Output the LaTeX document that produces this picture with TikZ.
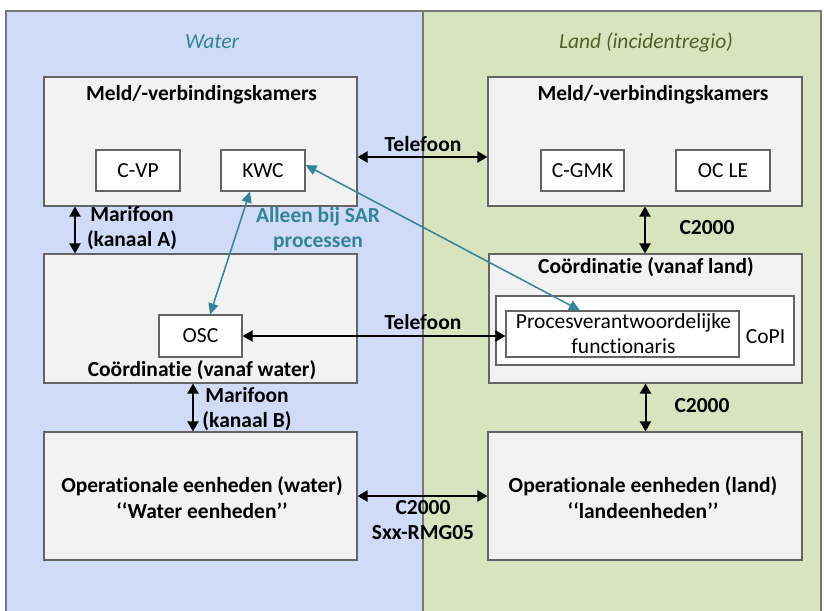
\documentclass[tikz,border=0pt]{standalone}
\usepackage{fontspec}
\setmainfont{Carlito}[Ligatures={NoCommon}]
\usetikzlibrary{arrows.meta}
\definecolor{waterbg}{RGB}{207,219,247}
\definecolor{landbg}{RGB}{215,228,189}
\definecolor{boxfill}{RGB}{242,242,242}
\definecolor{boxline}{RGB}{100,100,100}
\definecolor{panelline}{RGB}{120,120,120}
\definecolor{tealc}{RGB}{49,132,155}
\definecolor{landc}{RGB}{79,98,40}
\newcommand{\fsz}{\fontsize{21.5}{25.5}\selectfont}
\begin{document}
\begin{tikzpicture}[x=1pt,y=-1pt,
  panel/.style={draw=panelline, line width=1.2pt, inner sep=0, minimum height=604pt},
  box/.style={draw=boxline, fill=boxfill, line width=1.1pt, inner sep=0},
  wbox/.style={draw=boxline, fill=white, line width=1.1pt, inner sep=0},
  txt/.style={font=\fsz, inner sep=0, align=center},
  btxt/.style={font=\fsz\bfseries, inner sep=0, align=center},
  blk/.style={line width=2pt, {Triangle[length=10pt,width=11pt]}-{Triangle[length=10pt,width=11pt]}},
  tl/.style={draw=tealc, line width=1.5pt, {Triangle[length=11pt,width=10pt]}-{Triangle[length=11pt,width=10pt]}}
]
\clip (0,0) rectangle (824,610);
\fill[white] (0,0) rectangle (824,610);
% panels
\node[panel, fill=waterbg, minimum width=417pt] (pw) at (214.5,313) {};
\node[panel, fill=landbg, minimum width=398pt] (pl) at (622,313) {};
\node[txt, text=tealc, font=\fsz\itshape] (tw) at (212,42) {Water};
\node[txt, text=landc, font=\fsz\itshape] (tland) at (646,42) {Land (incidentregio)};

% boxes water
\node[box, minimum width=313pt, minimum height=129pt] (mvkW) at (200.5,141.5) {};
\node[btxt] (mvkWt) at (201.5,95) {Meld/-verbindingskamers};
\node[wbox, minimum width=84pt, minimum height=41pt] (cvp) at (138,170.5) {};
\node[txt] (cvpt) at (138,170.5) {C-VP};
\node[wbox, minimum width=84pt, minimum height=41pt] (kwc) at (263,170.5) {};
\node[txt] (kwct) at (263,170.5) {KWC};

\node[box, minimum width=313pt, minimum height=129pt] (coW) at (200.5,318.5) {};
\node[btxt] (coWt) at (202,370) {Coördinatie (vanaf water)};
\node[wbox, minimum width=83pt, minimum height=42pt] (osc) at (200.5,336) {};
\node[txt] (osct) at (200.5,336) {OSC};

\node[box, minimum width=313pt, minimum height=128pt] (opW) at (200.5,496) {};
\node[btxt] (opWt) at (202,497.5) {Operationale eenheden (water)\\‘‘Water eenheden’’};

% boxes land
\node[box, minimum width=314pt, minimum height=129pt] (mvkL) at (645,141.5) {};
\node[btxt] (mvkLt) at (653,95) {Meld/-verbindingskamers};
\node[wbox, minimum width=83pt, minimum height=41pt] (cgmk) at (582.5,170.5) {};
\node[txt] (cgmkt) at (582.5,170.5) {C-GMK};
\node[wbox, minimum width=94pt, minimum height=41pt] (ocle) at (723,170.5) {};
\node[txt] (oclet) at (723,170.5) {OC LE};

\node[box, minimum width=313pt, minimum height=129pt] (coL) at (645.5,318.5) {};
\node[btxt] (coLt) at (646,267) {Coördinatie (vanaf land)};
\node[wbox, minimum width=298pt, minimum height=69pt] (copi) at (645,330.5) {};
\node[wbox, minimum width=233pt, minimum height=46pt] (proc) at (622.5,334) {};
\node[txt, font=\fontsize{21.5}{24.5}\selectfont] (proct) at (623.5,333.5) {Procesverantwoordelijke\\functionaris};
\node[txt] (copit) at (765.5,337) {CoPI};

\node[box, minimum width=314pt, minimum height=128pt] (opL) at (645,496) {};
\node[btxt] (opLt) at (643,497.5) {Operationale eenheden (land)\\‘‘landeenheden’’};

% black connectors
\draw[blk] ([yshift=-15.5pt]mvkW.east) -- ([yshift=-15.5pt]mvkL.west);
\node[btxt] (tel1) at (423,144) {Telefoon};
\draw[blk] ([xshift=-125.5pt]mvkW.south) -- ([xshift=-125.5pt]coW.north);
\node[btxt] (marA) at (132,228) {Marifoon\\(kanaal A)};
\draw[blk] (osc.east) -- (osc.east -| proc.west);
\node[btxt] (tel2) at (423,322) {Telefoon};
\draw[blk] (mvkL.south) -- (mvkL.south |- coL.north);
\node[btxt] (c1) at (707,228) {C2000};
\draw[blk] (coL.south) -- (coL.south |- opL.north);
\node[btxt] (c2) at (702,406) {C2000};
\draw[blk] ([xshift=-7.5pt]coW.south) -- ([xshift=-7.5pt]opW.north);
\node[btxt] (marB) at (247,409) {Marifoon\\(kanaal B)};
\draw[blk] (opW.east) -- (opL.west);
\node[btxt] (c3) at (423,520) {C2000\\Sxx-RMG05};

% teal connectors
\draw[tl] ([xshift=-13pt]kwc.south) -- ([xshift=9.5pt]osc.north);
\draw[tl] ([yshift=5.5pt]kwc.east) -- ([xshift=-42.5pt]proc.north);
\node[btxt, text=tealc] (sar) at (318,229) {Alleen bij SAR\\processen};
\end{tikzpicture}
\end{document}
